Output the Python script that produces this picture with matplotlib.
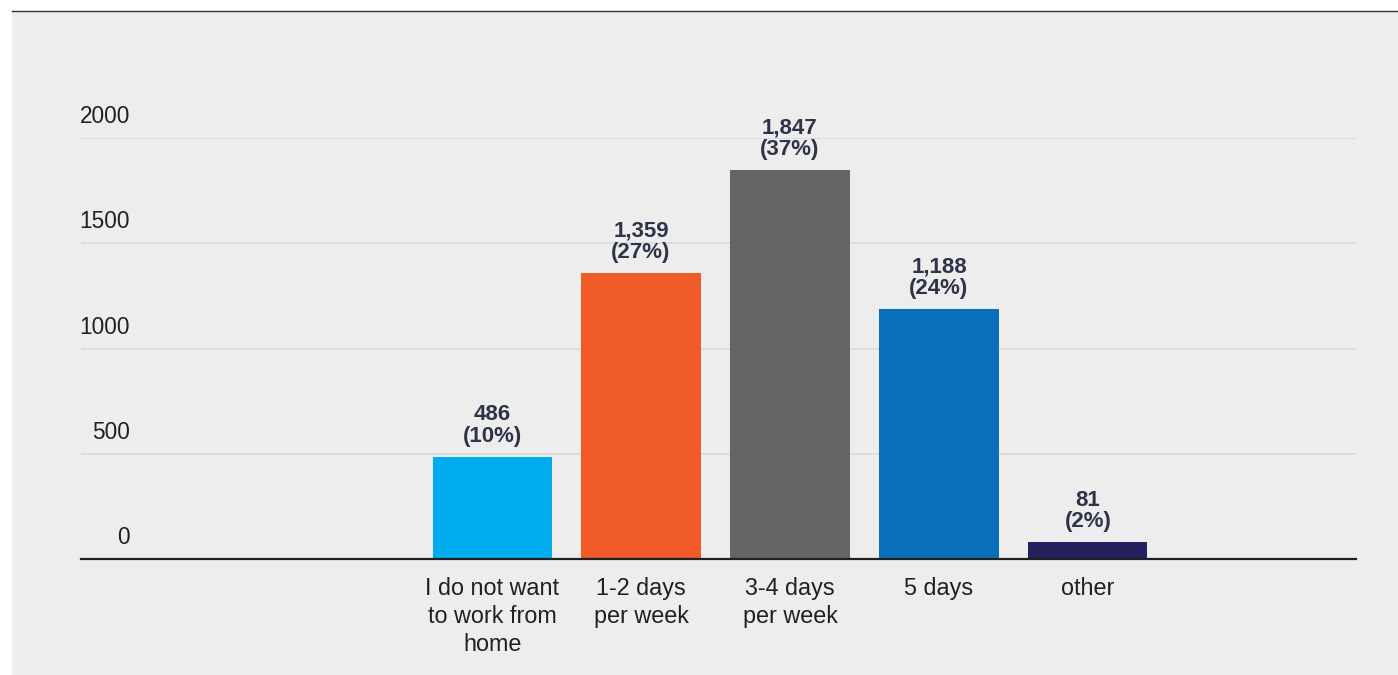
import matplotlib
matplotlib.use("Agg")
from matplotlib import pyplot as plt
from matplotlib.patches import Rectangle
from matplotlib.lines import Line2D

plt.rcParams['font.family'] = ['Liberation Sans', 'DejaVu Sans']

# Daten
categories = ["I do not want\nto work from\nhome", "1-2 days\nper week", "3-4 days\nper week", "5 days", "other"]
counts = [486, 1359, 1847, 1188, 81]
shares = [10, 27, 37, 24, 2]
colors = ["#00aeef", "#f15a29", "#636466", "#0a6fba", "#24215e"]
yticks = [0, 500, 1000, 1500, 2000]

W, H = 1398, 675
fig = plt.figure(figsize=(W / 100, H / 100), dpi=100)
fig.patch.set_facecolor("white")

# grauer Hintergrund + dunkle Linie oben
fig.patches.append(Rectangle((12 / W, 0), 1 - 12 / W, 1 - 11 / H, transform=fig.transFigure,
                             facecolor="#ededed", edgecolor="none", zorder=-5))
fig.lines.append(Line2D([12 / W, 1], [1 - 10.5 / H, 1 - 10.5 / H], transform=fig.transFigure,
                        color="#2b2f45", linewidth=1.0, zorder=-4))

ax = fig.add_axes([81 / W, (H - 559) / H, 1275 / W, 421 / H])
ax.set_zorder(2)
ax.set_facecolor("none")

x = list(range(len(categories)))
ax.bar(x, counts, width=0.8, color=colors, zorder=3)

ax.set_xlim(-2.76, 5.80)
ax.set_ylim(0, 2000)

for s in ["top", "left", "right"]:
    ax.spines[s].set_visible(False)
ax.spines["bottom"].set_color("#231f20")
ax.spines["bottom"].set_linewidth(1.6)
ax.spines["bottom"].set_zorder(4)

ax.set_yticks(yticks)
ax.yaxis.grid(True, color="#d8d8d8", linewidth=1.1)
ax.set_axisbelow(True)
ax.tick_params(axis="y", length=0, labelleft=False)

# Achsenbeschriftung oberhalb der Gitterlinien
for t in yticks:
    ax.annotate(str(t), xy=(0.0384, t), xycoords=("axes fraction", "data"),
                xytext=(0, 15), textcoords="offset pixels", ha="right", va="baseline",
                fontsize=16.3, color="#231f20", annotation_clip=False)

ax.set_xticks(x)
ax.set_xticklabels(categories, fontsize=16.8, color="#231f20", linespacing=1.27)
ax.tick_params(axis="x", length=0, pad=13)

# Werte über den Balken
for xi, c, p in zip(x, counts, shares):
    ax.annotate(f"{c:,}\n({p}%)", xy=(xi, c), xytext=(0, 10), textcoords="offset pixels",
                ha="center", va="bottom", fontsize=16, fontweight="bold",
                color="#2e3349", linespacing=1.02, annotation_clip=False)

fig.savefig("out.png", dpi=100, facecolor=fig.get_facecolor())
